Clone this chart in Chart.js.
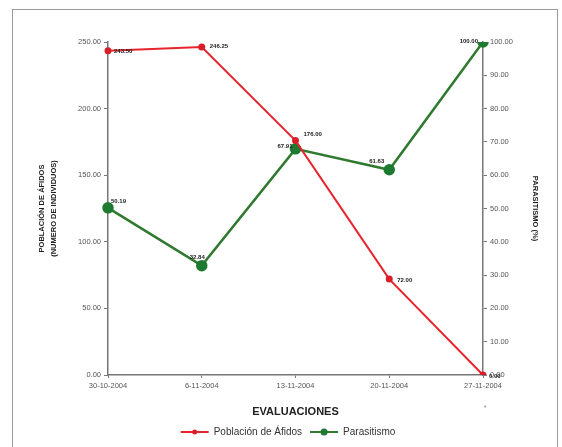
<!DOCTYPE html>
<html><head><meta charset="utf-8">
<script src="https://cdn.jsdelivr.net/npm/chart.js@4/dist/chart.umd.min.js"></script>
<style>html,body{margin:0;padding:0;background:#fff}#wrap{width:562px;height:447px;position:relative}</style>
</head><body><div id="wrap"><canvas id="c" width="562" height="447"></canvas></div>
<script>
const categories = ['30-10-2004','6-11-2004','13-11-2004','20-11-2004','27-11-2004'];
const poblacion = [243.50, 246.25, 176.00, 72.00, 0.00];
const parasitismo = [50.19, 32.84, 67.91, 61.63, 100.00];
const poblacionLabels = ['243.50','246.25','176.00','72.00','0.00'];
const parasitismoLabels = ['50.19','32.84','67.91','61.63','100.00'];
const leftTicks = [0,50,100,150,200,250];
const rightTicks = [0,10,20,30,40,50,60,70,80,90,100];

// label offsets (style, not data)
const popOff = [[6,1,'left'],[8,-1,'left'],[8,-6,'left'],[8,1,'left'],[6,1,'left']];
const parOff = [[3,-7,'left'],[-12,-8,'left'],[-3,-3,'right'],[-5,-8,'right'],[-5,-1,'right']];

const FONT = '"Liberation Sans", Arial, sans-serif';
const labelPlugin = {
  id:'lbl',
  beforeDraw(chart){
    const ctx = chart.ctx;
    ctx.save();
    ctx.strokeStyle='#9a9a9a'; ctx.lineWidth=1;
    ctx.strokeRect(12.5,9.5,545,445);
    ctx.restore();
  },
  afterDatasetsDraw(chart){
    const ctx = chart.ctx;
    ctx.save();
    ctx.font='bold 6px '+FONT;
    ctx.fillStyle='#222';
    ctx.textBaseline='middle';
    const m0 = chart.getDatasetMeta(0).data, m1 = chart.getDatasetMeta(1).data;
    m0.forEach((p,i)=>{ctx.textAlign=popOff[i][2];ctx.fillText(poblacionLabels[i],p.x+popOff[i][0],p.y+popOff[i][1]);});
    m1.forEach((p,i)=>{ctx.textAlign=parOff[i][2];ctx.fillText(parasitismoLabels[i],p.x+parOff[i][0],p.y+parOff[i][1]);});
    ctx.font='7px '+FONT;
    ctx.fillStyle='#888';
    ctx.textAlign='center';
    const xs = chart.scales.x;
    ctx.fillText('*', xs.getPixelForValue(4)+2, 408);
    ctx.restore();
  },
  afterDraw(chart){
    // dots on legend lines
    const ctx = chart.ctx, lg = chart.legend;
    if(!lg || !lg.legendHitBoxes) return;
    ctx.save();
    lg.legendHitBoxes.forEach((b,i)=>{
      const ds = chart.data.datasets[i];
      ctx.fillStyle = ds.pointBackgroundColor;
      ctx.beginPath();
      ctx.arc(b.left+14, b.top+b.height/2, i===0?2.5:3.5, 0, Math.PI*2);
      ctx.fill();
    });
    ctx.restore();
  }
};

new Chart(document.getElementById('c'),{
  type:'line',
  data:{labels:categories,datasets:[
    {label:'Población de Áfidos',data:poblacion,yAxisID:'y',borderColor:'#e8242c',backgroundColor:'#e8242c',borderWidth:2,pointRadius:2.5,pointBackgroundColor:'#d81e28',pointBorderColor:'#d81e28',tension:0},
    {label:'Parasitismo',data:parasitismo,yAxisID:'y1',borderColor:'#2f7a2f',backgroundColor:'#1d6b2a',borderWidth:2.5,pointRadius:4.5,pointBackgroundColor:'#1d7a30',pointBorderColor:'#1d7a30',tension:0}
  ]},
  options:{
    responsive:false,animation:false,
    layout:{padding:{left:36,right:22,top:42,bottom:0}},
    plugins:{
      legend:{position:'bottom',labels:{boxWidth:28,boxHeight:2,color:'#333',font:{family:FONT,size:10},padding:8,
        generateLabels(chart){return chart.data.datasets.map((d,i)=>({text:d.label,fillStyle:d.borderColor,strokeStyle:d.borderColor,lineWidth:0,datasetIndex:i,fontColor:'#333'}));}}},
      tooltip:{enabled:false}
    },
    scales:{
      x:{type:'category',offset:false,
        grid:{display:true,drawOnChartArea:false,drawTicks:true,tickLength:3,color:'#777'},
        border:{display:true,color:'#777',width:1.5},
        ticks:{color:'#555',font:{family:FONT,size:7.5},padding:3,maxRotation:0,autoSkip:false},
        title:{display:true,text:'EVALUACIONES',color:'#222',font:{family:FONT,size:11,weight:'bold'},padding:{top:4,bottom:0}},
        afterFit(s){s.height=44;}
      },
      y:{position:'left',min:0,max:250,
        afterBuildTicks(s){s.ticks=leftTicks.map(v=>({value:v}));},
        grid:{drawOnChartArea:false,drawTicks:true,tickLength:4,color:'#777'},
        border:{display:true,color:'#777',width:1.5},
        ticks:{color:'#555',font:{family:FONT,size:7.5},padding:3,callback:v=>v.toFixed(2)},
        title:{display:true,text:['POBLACIÓN DE ÁFIDOS','(NUMERO DE INDIVIDUOS)'],color:'#222',font:{family:FONT,size:7.5,weight:'bold',lineHeight:1.6},padding:0},
        afterFit(s){s.width=72;}
      },
      y1:{position:'right',min:0,max:100,
        afterBuildTicks(s){s.ticks=rightTicks.map(v=>({value:v}));},
        grid:{drawOnChartArea:false,drawTicks:true,tickLength:4,color:'#777'},
        border:{display:true,color:'#777',width:1.5},
        ticks:{color:'#555',font:{family:FONT,size:7.5},padding:3,callback:v=>v.toFixed(2)},
        title:{display:true,text:'PARASITISMO (%)',color:'#222',font:{family:FONT,size:7.5,weight:'bold'},padding:0},
        afterFit(s){s.width=57;}
      }
    }
  },
  plugins:[labelPlugin]
});
</script></body></html>
